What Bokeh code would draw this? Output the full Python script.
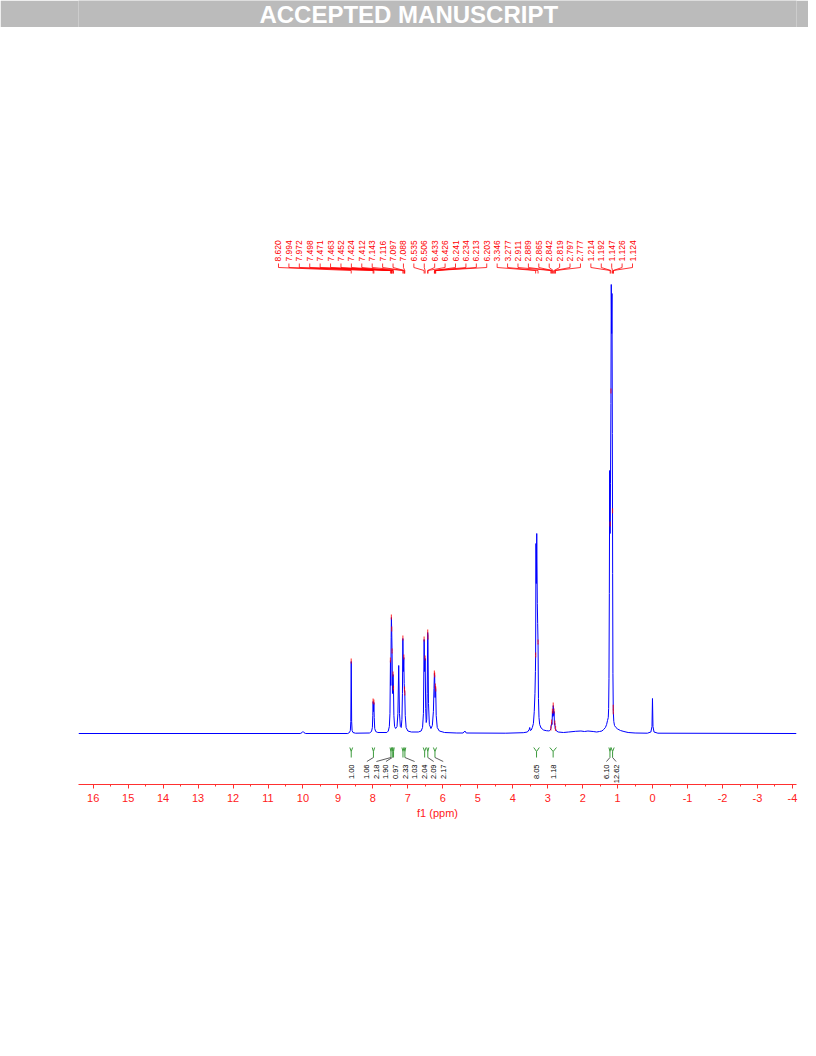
import numpy as np
from bokeh.plotting import figure
from bokeh.models import Range1d, FixedTicker
from bokeh.layouts import column
from bokeh.embed import file_html
from bokeh.resources import INLINE
from bokeh.core.properties import value

# ---------------- data ----------------
# spectrum trace vertices (ppm, intensity above baseline, arbitrary units)
spec_ppm = [16.42, 10.08, 10.03, 10.00, 9.97, 9.92,
            8.72, 8.67, 8.645, 8.632, 8.620, 8.608, 8.595, 8.57, 8.50,
            8.10, 8.04, 8.015, 8.003, 7.994, 7.983, 7.972, 7.962, 7.948, 7.92, 7.86,
            7.60, 7.56, 7.53, 7.512, 7.498, 7.488, 7.478, 7.471, 7.463, 7.452, 7.44, 7.424, 7.412, 7.40, 7.38, 7.35,
            7.31, 7.285, 7.262, 7.24, 7.215, 7.19,
            7.17, 7.155, 7.143, 7.13, 7.116, 7.105, 7.097, 7.088, 7.075, 7.05, 7.0, 6.9,
            6.70, 6.62, 6.58, 6.555, 6.535, 6.522, 6.506, 6.49, 6.475, 6.46, 6.447, 6.433, 6.426, 6.41, 6.385, 6.34,
            6.30, 6.27, 6.253, 6.241, 6.234, 6.222, 6.213, 6.203, 6.19, 6.16, 6.10, 5.95, 5.60,
            5.42, 5.37, 5.33,
            4.20, 3.70, 3.58, 3.53, 3.515, 3.50, 3.47, 3.44, 3.41, 3.385, 3.365, 3.352, 3.346, 3.336, 3.326,
            3.314, 3.298, 3.288, 3.277, 3.265, 3.25, 3.23, 3.19, 3.12, 3.04, 2.97,
            2.94, 2.925, 2.911, 2.90, 2.889, 2.877, 2.865, 2.853, 2.842, 2.830, 2.819, 2.808, 2.797, 2.787, 2.777,
            2.75, 2.70,
            2.55, 2.40, 2.20, 2.05, 1.95, 1.85, 1.70, 1.60, 1.52,
            1.45, 1.40, 1.35, 1.316, 1.29, 1.268, 1.258, 1.248, 1.238, 1.228, 1.216, 1.205, 1.193, 1.183,
            1.172, 1.162, 1.152, 1.143, 1.135, 1.125, 1.11, 1.09, 1.05, 1.0, 0.92, 0.82, 0.70, 0.50,
            0.15, 0.05, 0.018, 0.004, -0.010, -0.04, -0.15, -4.115]
spec_int = [0, 0, 0.8, 2, 0.8, 0,
            0, 1, 3, 12, 72, 12, 3, 1, 0.3,
            0.5, 2, 6, 18, 32, 22, 31, 16, 5, 2, 1,
            1, 2.5, 7, 20, 73, 48, 96, 116, 104, 82, 40, 59, 45, 18, 7, 5,
            7, 20, 68, 20, 7, 6,
            14, 40, 95, 62, 76, 50, 44, 40, 18, 6, 2.5, 1.5,
            1.5, 2.5, 6, 20, 94, 62, 75, 25, 11, 14, 40, 101, 96, 30, 9, 5,
            8, 22, 45, 60, 58, 36, 47, 44, 18, 6, 2.5, 1, 0.5,
            0.5, 2.5, 0.5,
            0.3, 0.8, 1.5, 4, 6, 3, 3.5, 6, 10, 22, 40, 62, 78, 190, 150,
            200, 130, 110, 91, 35, 16, 9, 5.5, 3.5, 2.8, 2.6,
            3, 3.5, 5, 7, 11, 9, 22, 17, 28, 18, 22, 9, 10, 5, 4.5,
            2.5, 1.5,
            1, 1.5, 2.2, 2.5, 2, 2.5, 2, 1.5, 2,
            2.5, 4, 6, 9, 13, 16, 25, 55, 140, 263, 200, 250, 330, 449,
            400, 440, 300, 160, 60, 22, 12, 8, 6, 4.5, 3, 2, 1, 0.5,
            0.3, 1.5, 7, 35, 7, 1.5, 0.3, 0]

# peak picking labels (ppm)
peak_ppm = [8.620, 7.994, 7.972, 7.498, 7.471, 7.463, 7.452, 7.424, 7.412,
            7.143, 7.116, 7.097, 7.088,
            6.535, 6.506, 6.433, 6.426, 6.241, 6.234, 6.213, 6.203,
            3.346, 3.277, 2.911, 2.889, 2.865, 2.842, 2.819, 2.797, 2.777,
            1.214, 1.192, 1.147, 1.126, 1.124]

# integrals: region (from, to) in ppm and value
int_from = [8.66, 8.02, 7.51, 7.46, 7.43, 7.17, 7.11, 6.56, 6.46, 6.27, 3.40, 2.94, 1.25, 1.19]
int_to = [8.58, 7.95, 7.46, 7.43, 7.39, 7.11, 7.06, 6.48, 6.40, 6.18, 3.24, 2.75, 1.19, 1.10]
int_val = ["1.00", "1.06", "2.18", "1.90", "0.97", "2.33", "1.03", "2.04", "2.09", "2.17",
           "8.05", "1.18", "6.10", "12.62"]

axis_ticks = list(range(-4, 17))
axis_minor = [t + 0.5 for t in range(-5, 17)]

# ---------------- layout (styles / positions) ----------------
RED = "#ff0000"
BLUE = "#0000ff"
GREEN = "#3c9a3c"
GREY = "#bbbbbb"
FONT = "Liberation Sans"

X_START, X_END = 16.42, -4.115
Y_START, Y_END = -51, 503

LABEL_BASE = 472
TICK_TOP, TICK_BOTTOM, DIAG_END, MARK_TOP = 470, 466, 463, 460
LABEL_LEFT, LABEL_RIGHT = 10.70, 0.575

INT_TOP, INT_FORK, INT_BOTTOM = -14, -18, -24
INT_LABEL_TOP = -31
INT_SPACING = 0.273

BANNER_H = 27
FIG_W = 808
BANNER_TEXT_X = 0.46  # fraction of the (aligned) banner frame

# banner
banner = figure(width=FIG_W, height=BANNER_H, x_range=(0, 1), y_range=(0, 1),
                toolbar_location=None, output_backend="svg",
                x_axis_type=None, y_axis_type=None, min_border=0,
                background_fill_color=GREY, border_fill_color=GREY)
banner.outline_line_color = None
banner.xgrid.visible = False
banner.ygrid.visible = False
banner.text(x=[BANNER_TEXT_X], y=[0.5], text=["ACCEPTED MANUSCRIPT"], text_align="center",
            text_baseline="middle", text_color="white", text_font=value(FONT),
            text_font_style="bold", text_font_size="24px")

# main spectrum
p = figure(width=FIG_W, height=1013, toolbar_location=None, output_backend="svg",
           x_range=Range1d(X_START, X_END), y_range=Range1d(Y_START, Y_END),
           y_axis_type=None, min_border_left=78, min_border_right=12,
           min_border_top=203, min_border_bottom=256)
p.outline_line_color = None
p.xgrid.visible = False
p.ygrid.visible = False
p.background_fill_color = "white"

ax = p.xaxis[0]
ax.ticker = FixedTicker(ticks=axis_ticks, minor_ticks=axis_minor)
ax.major_label_overrides = {t: str(t) for t in axis_ticks}
ax.axis_line_color = "#ff3030"
ax.major_tick_line_color = "#ff3030"
ax.minor_tick_line_color = "#ff3030"
ax.major_tick_in = 0
ax.major_tick_out = 4
ax.minor_tick_in = 0
ax.minor_tick_out = 2
ax.major_label_text_color = "#ff2020"
ax.major_label_text_font = FONT
ax.major_label_text_font_size = "11px"
ax.major_label_standoff = 5
ax.axis_label = "f1 (ppm)"
ax.axis_label_text_color = "#ff2020"
ax.axis_label_text_font = FONT
ax.axis_label_text_font_size = "11px"
ax.axis_label_text_font_style = "normal"
ax.axis_label_standoff = 2

# spectrum trace
p.line(spec_ppm, spec_int, line_color=BLUE, line_width=1)

# peak labels
n = len(peak_ppm)
label_x = np.linspace(LABEL_LEFT, LABEL_RIGHT, n)
p.text(x=label_x, y=[LABEL_BASE] * n, text=[f"{v:.3f}" for v in peak_ppm],
       angle=np.pi / 2, text_align="left", text_baseline="middle",
       text_color=RED, text_font=value(FONT), text_font_size="8.5px")
xs = [[lx, lx, px, px] for lx, px in zip(label_x, peak_ppm)]
ys = [[TICK_TOP, TICK_BOTTOM, DIAG_END, MARK_TOP] for _ in peak_ppm]
p.multi_line(xs, ys, line_color=RED, line_width=0.8)

# red peak marks on the trace
sp = np.array(spec_ppm)[::-1]
si = np.array(spec_int)[::-1]
ph = np.interp(peak_ppm, sp, si)
p.segment(x0=peak_ppm, y0=ph - 2, x1=peak_ppm, y1=ph + 3, line_color=RED, line_width=1.2,
          line_alpha=0.7)


# integral label spreading (layout)
def spread(centers, d):
    clusters = [[c] for c in centers]
    changed = True
    while changed:
        changed = False
        out = []
        for cl in clusters:
            if out:
                prev = out[-1]
                pm = np.mean(prev)
                prev_end = pm - d * (len(prev) - 1) / 2
                cm = np.mean(cl)
                cur_start = cm + d * (len(cl) - 1) / 2
                if prev_end - cur_start < d - 1e-9:
                    out[-1] = prev + cl
                    changed = True
                    continue
            out.append(cl)
        clusters = out
    pos = []
    for cl in clusters:
        m = np.mean(cl)
        k = len(cl)
        pos += [m + d * ((k - 1) / 2 - i) for i in range(k)]
    return pos


int_c = [(a + b) / 2 for a, b in zip(int_from, int_to)]
int_lx = spread(int_c, INT_SPACING)

# integral marks
mxs, mys = [], []
for a, b, c in zip(int_from, int_to, int_c):
    mxs.append([a, c, b])
    mys.append([INT_TOP, INT_FORK, INT_TOP])
    mxs.append([c, c])
    mys.append([INT_FORK, INT_BOTTOM])
p.multi_line(mxs, mys, line_color=GREEN, line_width=1)

cxs, cys = [], []
for lx, c in zip(int_lx, int_c):
    if abs(lx - c) > 0.06:
        cxs.append([lx, c])
        cys.append([INT_LABEL_TOP + 3, INT_BOTTOM])
p.multi_line(cxs, cys, line_color="#333333", line_width=0.8)

p.text(x=int_lx, y=[INT_LABEL_TOP] * len(int_lx), text=int_val, angle=np.pi / 2,
       text_align="right", text_baseline="middle", text_color="black",
       text_font=value(FONT), text_font_size="7.5px")

layout = column(banner, p, spacing=0)
open("out.html", "w").write(file_html(layout, INLINE))
